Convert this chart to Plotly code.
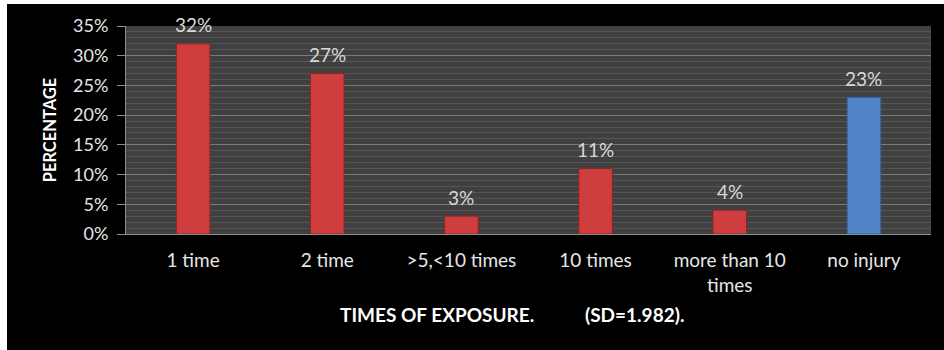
import plotly.graph_objects as go

categories = ["1 time", "2 time", ">5,<10 times", "10 times", "more than 10<br>times", "no injury"]
values = [0.32, 0.27, 0.03, 0.11, 0.04, 0.23]
labels = ["32%", "27%", "3%", "11%", "4%", "23%"]
colors = ["#CF3E3E", "#CF3E3E", "#CF3E3E", "#CF3E3E", "#CF3E3E", "#5084C6"]
edge_colors = ["#8E2424", "#8E2424", "#8E2424", "#8E2424", "#8E2424", "#35609A"]
x_title = "TIMES OF EXPOSURE.           (SD=1.982)."
y_title = "PERCENTAGE"

W, H = 944, 350
L, R, T, B = 126, 931, 26, 234
FONT = "Lato, 'Open Sans', sans-serif"

fig = go.Figure()
fig.add_trace(go.Bar(
    x=categories, y=values,
    marker=dict(color=colors, line=dict(color=edge_colors, width=1)),
    width=0.25, cliponaxis=False,
))

def px_x(p):
    return (p - L) / (R - L)

def px_y(p):
    return (B - p) / (B - T)

annotations = [
    dict(x=c, y=v, text=t, xref="x", yref="y", showarrow=False, yshift=19,
         font=dict(color="#D9D9D9", size=19, family=FONT))
    for c, v, t in zip(categories, values, labels)
]
annotations.append(dict(
    x=px_x(512), y=px_y(314), xref="paper", yref="paper", text=x_title, showarrow=False,
    xanchor="center", yanchor="middle",
    font=dict(color="white", size=19, family=FONT, weight="bold"),
))

shapes = [
    dict(type="rect", xref="paper", yref="paper", x0=px_x(0), x1=px_x(W), y0=px_y(0), y1=px_y(4),
         fillcolor="white", line=dict(width=0), layer="above"),
    dict(type="rect", xref="paper", yref="paper", x0=px_x(0), x1=px_x(7), y0=px_y(0), y1=px_y(H),
         fillcolor="white", line=dict(width=0), layer="above"),
]

fig.update_layout(
    width=W, height=H, autosize=False,
    margin=dict(l=L, r=W - R, t=T, b=H - B),
    paper_bgcolor="black", plot_bgcolor="#404040",
    showlegend=False,
    shapes=shapes,
    annotations=annotations,
    xaxis=dict(
        showgrid=False, showline=True, linecolor="#8C8C8C", linewidth=1,
        tickfont=dict(color="#E6E6E6", size=19, family=FONT),
        ticks="", ticklabelstandoff=9,
    ),
    yaxis=dict(
        range=[0, 0.35], dtick=0.05, tickformat=".0%",
        showgrid=True, gridcolor="#7A7A7A", gridwidth=1,
        minor=dict(dtick=0.01, showgrid=True, gridcolor="#555555", gridwidth=1),
        showline=True, linecolor="#8C8C8C", linewidth=1,
        ticks="outside", ticklen=8, tickcolor="#8C8C8C",
        tickfont=dict(color="#E6E6E6", size=18, family=FONT),
        ticklabelstandoff=5,
        zeroline=False,
        title=dict(text=y_title, font=dict(color="white", size=16.5, family=FONT, weight="bold"),
                   standoff=12),
    ),
)

fig.write_html("out.html")
